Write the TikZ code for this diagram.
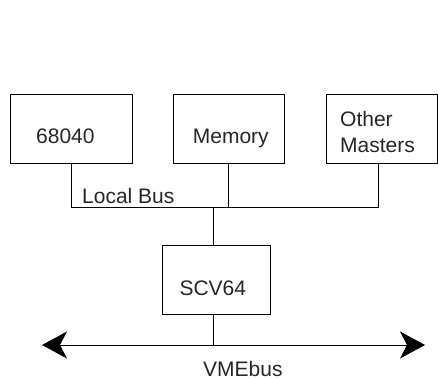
\documentclass[tikz,border=0pt]{standalone}
\usepackage{fontspec}
\setmainfont{Liberation Sans}
\usetikzlibrary{arrows.meta}
\begin{document}
\begin{tikzpicture}[x=1pt,y=-1pt,
  box/.style={draw,line width=1pt,inner sep=0pt},
  lbl/.style={inner sep=0pt,anchor=base west,font=\fontsize{21}{27}\selectfont,text=black!85},
  wire/.style={line width=1pt}]
\useasboundingbox (0,0) rectangle (438,379);
% boxes
\node[box,minimum width=122pt,minimum height=69pt] (cpu) at (71,129.5) {};
\node[box,minimum width=111pt,minimum height=69pt] (mem) at (228.5,129.5) {};
\node[box,minimum width=111pt,minimum height=69pt] (oth) at (381.5,129.5) {};
\node[box,minimum width=108pt,minimum height=69pt] (scv) at (216,279.5) {};
% texts
\node[lbl] (tcpu) at (36,143.3) {68040};
\node[lbl] (tmem) at (192.7,143.3) {Memory};
\node[lbl] (toth1) at (340,127) {Other};
\node[lbl] (toth2) at (340,153) {Masters};
\node[lbl] (tscv) at (179.3,295) {SCV64};
\node[lbl] (tlb) at (82,203) {Local Bus};
\node[lbl] (tvme) at (203,376) {VMEbus};
% local bus
\coordinate (bl) at (71,207);
\coordinate (br) at (378,207);
\coordinate (bm) at (228.5,207);
\coordinate (bs) at (213.3,207);
\draw[wire] (cpu.south) -- (bl) -- (br) -- (br |- oth.south);
\draw[wire] (mem.south) -- (bm);
\draw[wire] (bs) -- (bs |- scv.north);
% VMEbus
\coordinate (vl) at (42,345);
\coordinate (vr) at (425,345);
\coordinate (vm) at (213.3,345);
\draw[wire,{Stealth[length=25pt,width=27pt,inset=7pt]}-{Stealth[length=25pt,width=27pt,inset=7pt]}] (vl) -- (vr);
\draw[wire] (vm |- scv.south) -- (vm);
\end{tikzpicture}
\end{document}
